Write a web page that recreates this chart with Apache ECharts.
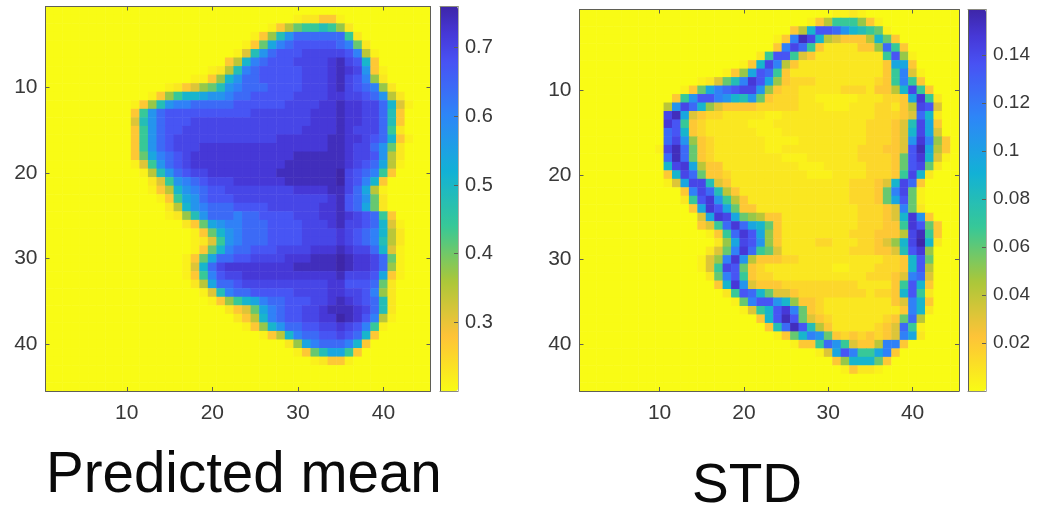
<!DOCTYPE html>
<html><head><meta charset="utf-8">
<style>html,body{margin:0;padding:0;background:#fff}#c{width:1038px;height:512px}</style>
<script src="https://cdn.jsdelivr.net/npm/echarts@6/dist/echarts.min.js"></script>
</head><body><div id="c"></div>
<script>
const cells = Array.from({length:45},(_,i)=>String(i+1));
const meanRange = [0.2,0.76];
const stdRange = [0,0.159];
const meanTicks = 0.1;
const stdTicks = 0.02;
// shade of the colour scale per cell code: 0-9, a-j, and k for a faint orange
const shades = [0,.025,.05,.13,.2,.26,.31,.37,.43,.5,.55,.61,.67,.73,.79,.85,.89,.93,.97,1,.09];
const parula = ['#f9fb15','#fbde26','#fec338','#d5c538','#abc739','#71c868','#37c897','#25bdb6','#12b1d6','#209ce7','#2d87f7','#3b6cf6','#4852f4','#4638d8','#3e26a8'];
// [row, first column, shade of each cell]
const meanRows = [
[2,30,"122331"],
[3,27,"1357889862"],
[4,25,"1369ceeeeee82"],
[5,24,"137bdefffffed72"],
[6,23,"149cefffgggggfd51"],
[7,22,"35adefffgggghigfa3"],
[8,20,"1259defffffggghihgc31"],
[9,18,"1136aceefffffggghigfd62"],
[10,15,"1234679cdeeeffffggghigfed62"],
[11,13,"1368aabccdeefffffgggghhggfec52"],
[12,11,"1369cddeeeeeffffffgggghhihhggea41"],
[13,11,"38ceffffffffffggggggghhhihhgge93"],
[14,11,"49cefffgggggggggggggghhhihhgge93"],
[15,11,"38ceffgggggggggggggghhhhihggge82"],
[16,11,"38cefgggggggggggghhhhhhiihhgfea31"],
[17,11,"38cefggghhhhhhhhhhhhhhhiihggec72"],
[18,11,"37bdefghhhhhhhhhhhhiiiiiihggfc52"],
[19,11,"148cefghhhhhhhhhhhiiiiiiihgfeb51"],
[20,12,"159cefgghhhhhhhhiiiiiiijgfed83"],
[21,13,"248cdefggghhhhhhiiiiiijgfda3"],
[22,13,"135acdeffgggggggghhhhiigeb51"],
[23,14,"138bcefffg"+"gggggggggg"+"hifec72"],
[24,15,"25acdeee"+"ffff"+"gggggg"+"hhi"+"feb72"],
[25,15,"1269ceee"+"de"+"e"+"ffff"+"ggg"+"hhi"+"hgfe83"],
[26,17,"237bcddeeeffffggghiggfea41"],
[27,18,"137acdeeeffffgggghgfeda52"],
[28,18,"1248cdeeeffffgggghgfed952"],
[29,18,"137adeefffgggghhhihggea41"],
[30,17,"137beeffgggghhhiiijihhge71"],
[31,17,"14aeghhhhhhhhiiiiijihhge61"],
[32,17,"138dfgg"+"hhhhhhhhhhh"+"i"+"gggfb31"],
[33,18,"25beefgg"+"gggggggg"+"hh"+"fffe72"],
[34,19,"149deefffffgggghhggfd62"],
[35,20,"1368abdeefffgghihgfe92"],
[36,22,"2347bdeffgghiiihge92"],
[37,23,"235adeffgghhjihfd51"],
[38,24,"136aceeffgghgfd81"],
[39,26,"135adeeffgfea3"],
[40,29,"26bdeeeda3"],
[41,30,"1379bb83"],
[42,32,"12331"]
];
const stdRows = [
[1,31,"1121"],
[2,28,"135888631"],
[3,26,"35affeca9871"],
[4,24,"13diga543335a73"],
[5,24,"3dge832222336e83"],
[6,22,"28ff84322222222"+"8f61"],
[7,20,"13agd53"+"2222222222"+"3bb3"],
[8,18,"136bfe83"+"22222222222"+"38d41"],
[9,15,"12479dhfb63"+"kkk2222222k"+"38d83"],
[10,13,"137bdefggc63"+"kk22222kkk2"+"335ag83"],
[11,12,"38cffdca9c73"+"kkk2211111222kk"+"3bh82"],
[12,11,"5cgea64"+"3333kkkk"+"k222111222kk2"+"35gf4"],
[13,11,"gib43"+"kk222221122222222222kkk"+"34ea2"],
[14,11,"hf83"+"k22222111"+"22222222222"+"kkk3"+"49gb3"],
[15,11,"efa3"+"k2222221112222222222kkk"+"34agb4"],
[16,11,"egc63"+"k222222111122222222kkk"+"34chd63"],
[17,10,"1gie73"+"k22222211222222222kkk"+"334fib53"],
[18,11,"eie73"+"k22222222"+"111"+"222222"+"kkkk"+"37fha41"],
[19,11,"aghb533"+"22222222211122222kkk"+"37fg72"],
[20,11,"3age733"+"k2222222221112222kkk"+"38ga2"],
[21,11,"14bgg943"+"22222222222222kkk"+"34age3"],
[22,13,"3dge953"+"2222222222222kkk"+"37dg71"],
[23,13,"28fhc853"+"222222222222kkk"+"37bf71"],
[24,14,"3bhfb733"+"222222222222kkk"+"34d72"],
[25,15,"4bhgb76533"+"222222222kkk"+"34ahc3"],
[26,15,"348eheba73"+"222222222kkk"+"338hf73"],
[27,16,"138ehfb63"+"22222222kkk"+"3335gi83"],
[28,17,"26bgfc63"+"2222kk222kk"+"346agja2"],
[29,16,"247dhe874"+"22222222kkk"+"3349fh6"],
[30,15,"146dhc5333"+"kk2222222222kk"+"3af7"],
[31,15,"148gf73"+"k2222222211222kkk"+"3af5"],
[32,16,"27df83"+"kk22222222222kkk"+"34de4"],
[33,17,"3ahc4333kk"+"kkkkkkk2222"+"38fa3"],
[34,18,"28fea744"+"3kkkkkk"+"kk2"+"kk3"+"af82"],
[35,19,"17dffca633"+"k22222222"+"34da3"],
[36,20,"148afhd73"+"k222222222"+"3da2"],
[37,22,"3afif743"+"k222222k"+"37e5"],
[38,23,"39eif953"+"22222"+"k34e81"],
[39,24,"137adc73k3k3k34db2"],
[40,26,"1338ec84335dd3"],
[41,29,"14bfd88bd3"],
[42,31,"36aaa73"],
[43,32,"13221"]
];
function toCells(rows, range){
  const out=[];
  const grid=cells.map(()=>cells.map(()=>0));
  rows.forEach(([r,c,s])=>{[...s].forEach((ch,i)=>{ if(c-1+i<45) grid[r-1][c-1+i]=parseInt(ch,21); });});
  grid.forEach((row,y)=>row.forEach((lv,x)=>out.push([x,y,range[0]+shades[lv]*(range[1]-range[0])])));
  return out;
}
const boxColor='#5f5f55', textColor='#383838', font='Liberation Sans';
const showTen=(i)=>(i+1)%10===0;
function catAxis(kind,grid,pos,labels){
  const a={type:'category',gridIndex:grid,position:pos,data:cells,z:10,
    axisLine:{show:true,onZero:false,lineStyle:{color:boxColor,width:1}},
    axisTick:{show:true,inside:true,length:4,alignWithLabel:true,interval:showTen,lineStyle:{color:boxColor}},
    axisLabel:{show:labels,interval:showTen,fontFamily:font,fontSize:21,color:textColor,margin:kind==='x'?12:8},
    splitLine:{show:false},splitArea:{show:false}};
  if(kind==='y') a.inverse=true;
  return a;
}
function edgeAxis(grid,pos){
  return {type:'category',gridIndex:grid,position:pos,data:[''],z:10,
    axisLine:{show:true,onZero:false,lineStyle:{color:'#8a8a80',width:1}},
    axisTick:{show:false},axisLabel:{show:false},splitLine:{show:false}};
}
function barAxis(grid,pos,range,step,labels,size){
  return {type:'value',gridIndex:grid,position:pos,min:range[0],max:range[1],interval:step,z:10,
    axisLine:{show:true,onZero:false,lineStyle:{color:labels?'#b0b0a8':boxColor,width:1}},
    axisTick:{show:labels,inside:true,length:4,lineStyle:{color:boxColor}},
    axisLabel:{show:labels,showMinLabel:false,showMaxLabel:false,fontFamily:font,fontSize:size,color:textColor,margin:7},
    splitLine:{show:false}};
}
function colorBar(idx,left,top,h,range){
  return {type:'continuous',seriesIndex:idx,min:range[0],max:range[1],left:left,top:top,itemWidth:18,itemHeight:h,padding:0,
    calculable:false,text:null,inRange:{color:parula},hoverLink:false};
}
const chart=echarts.init(document.getElementById('c'),null,{renderer:'canvas'});
chart.setOption({
  animation:false,backgroundColor:'#fff',
  title:[
    {text:'Predicted mean',left:41,top:443,textStyle:{fontFamily:font,fontWeight:'normal',fontSize:56.5,color:'#0a0a0a'}},
    {text:'STD',left:687,top:454,textStyle:{fontFamily:font,fontWeight:'normal',fontSize:55,color:'#0a0a0a'}}
  ],
  grid:[
    {left:45.5,top:6.5,width:385,height:384.5},
    {left:579.5,top:9.5,width:379.5,height:381.5},
    {left:440,top:6.5,width:18,height:384.5},
    {left:968,top:9.5,width:18,height:381.5}
  ],
  xAxis:[catAxis('x',0,'bottom',true),catAxis('x',0,'top',false),catAxis('x',1,'bottom',true),catAxis('x',1,'top',false),
    edgeAxis(2,'bottom'),edgeAxis(2,'top'),edgeAxis(3,'bottom'),edgeAxis(3,'top')],
  yAxis:[catAxis('y',0,'left',true),catAxis('y',0,'right',false),catAxis('y',1,'left',true),catAxis('y',1,'right',false),
    barAxis(2,'left',meanRange,meanTicks,false,20),barAxis(2,'right',meanRange,meanTicks,true,20),
    barAxis(3,'left',stdRange,stdTicks,false,19),barAxis(3,'right',stdRange,stdTicks,true,19)],
  visualMap:[colorBar(0,440,6.5,384.5,meanRange),colorBar(1,968,9.5,381.5,stdRange)],
  series:[
    {type:'heatmap',xAxisIndex:0,yAxisIndex:0,data:toCells(meanRows,meanRange),progressive:0,itemStyle:{borderWidth:0}},
    {type:'heatmap',xAxisIndex:2,yAxisIndex:2,data:toCells(stdRows,stdRange),progressive:0,itemStyle:{borderWidth:0}}
  ]
});
</script></body></html>
